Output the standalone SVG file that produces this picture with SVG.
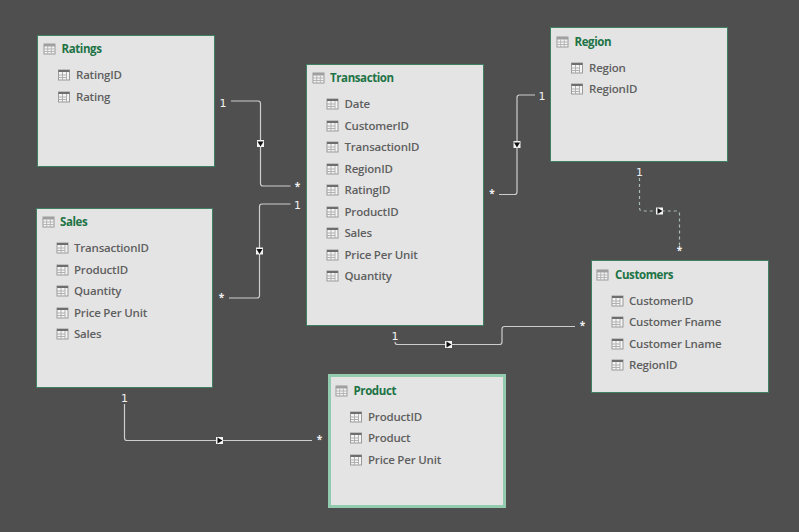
<svg xmlns="http://www.w3.org/2000/svg" width="799" height="532" viewBox="0 0 799 532">
<style>
text{font-family:"Open Sans","Noto Sans","Liberation Sans",sans-serif}
.box{fill:#e4e4e4;stroke:#3f8063;stroke-width:1}
.sel{fill:#e4e4e4;stroke:#92cbaf;stroke-width:3}
.t{font-size:11.500px;font-weight:700;fill:#217346;letter-spacing:-.4px}
.f{font-size:11.500px;font-weight:600;fill:#5f5f5f;letter-spacing:-.2px}
.c{fill:none;stroke:#cdcdcd;stroke-width:1.200}
.d{fill:none;stroke:#a9bdb3;stroke-width:1.200;stroke-dasharray:3 3}
text.n{font-family:"DejaVu Sans",sans-serif;font-size:11px;fill:#f2f2f2;text-anchor:middle}
.s{font-size:10px;font-weight:700;fill:#f2f2f2;text-anchor:middle}
</style>
<defs>
<g id="ti">
<rect x="0" y="0" width="11" height="10" fill="#f4f4f4" stroke="#9a9a9a"/>
<rect x="0" y="0" width="11" height="2.500" fill="#a0a0a0"/>
<path d="M3.700 2.500V10M7.300 2.500V10M0 5H11M0 7.500H11" stroke="#b5b5b5" stroke-width="1" fill="none"/>
</g>
<g id="fi">
<rect x="0" y="0" width="11" height="10" fill="#f4f4f4" stroke="#9a9a9a"/>
<rect x="0" y="0" width="11" height="2" fill="#6e6e6e"/>
<path d="M4 2V10M8 2V10M0 5H8M0 7.500H8" stroke="#b0b0b0" stroke-width="1" fill="none"/>
</g>
<g id="hd"><rect x="-3.500" y="-3.500" width="7" height="7" fill="#f4f4f4"/><path d="M-3 -2H3L0 3Z" fill="#111"/></g>
<g id="hr"><rect x="-3.500" y="-3.500" width="7" height="7" fill="#f4f4f4"/><path d="M-2 -3V3L3 0Z" fill="#111"/></g>
</defs>
<rect width="799" height="532" fill="#4f4f4f"/>
<g id="connectors">
<path class="c" d="M231 101H258Q260.500 101 260.500 103.500V183.500Q260.500 186 263 186H290.500"/>
<use href="#hd" x="260.500" y="143.500"/>
<text class="n" x="223" y="107">1</text><text class="s" x="297.500" y="190">*</text>
<path class="c" d="M229 298H257Q259.500 298 259.500 295.500V206.500Q259.500 204 262 204H290.500"/>
<use href="#hd" x="259.500" y="251"/>
<text class="s" x="221.500" y="301">*</text><text class="n" x="297.500" y="209">1</text>
<path class="c" d="M499 194.500H514.500Q517 194.500 517 192V97.500Q517 95 519.500 95H535"/>
<use href="#hd" x="517" y="144.500"/>
<text class="s" x="492" y="197">*</text><text class="n" x="542" y="100">1</text>
<path class="d" d="M639.500 178V208Q639.500 211 642.500 211H676.500Q679.500 211 679.500 214V246"/>
<use href="#hr" x="659.500" y="211"/>
<text class="n" x="639.500" y="176">1</text><text class="s" x="679.500" y="254">*</text>
<path class="c" d="M395 342Q395 344.500 397.500 344.500H499.500Q502 344.500 502 342V329Q502 326.500 504.500 326.500H575"/>
<use href="#hr" x="448.500" y="344.500"/>
<text class="n" x="395" y="340">1</text><text class="s" x="582.500" y="329">*</text>
<path class="c" d="M124.500 404V438Q124.500 440.500 127 440.500H312"/>
<use href="#hr" x="219.500" y="440.500"/>
<text class="n" x="124.500" y="402">1</text><text class="s" x="319.500" y="443">*</text>
</g>
<g id="ratings">
<rect class="box" x="37.500" y="35.500" width="177" height="131"/>
<use href="#ti" x="44" y="44"/><text class="t" x="61.500" y="53">Ratings</text>
<use href="#fi" x="58.500" y="70"/><text class="f" x="76" y="79">RatingID</text>
<use href="#fi" x="58.500" y="92"/><text class="f" x="76" y="101">Rating</text>
</g>
<g id="transaction">
<rect class="box" x="306.500" y="64.500" width="177" height="261"/>
<use href="#ti" x="313" y="73"/><text class="t" x="330" y="82">Transaction</text>
<use href="#fi" x="327" y="99"/><text class="f" x="344.500" y="108">Date</text>
<use href="#fi" x="327" y="121"/><text class="f" x="344.500" y="130">CustomerID</text>
<use href="#fi" x="327" y="142"/><text class="f" x="344.500" y="151">TransactionID</text>
<use href="#fi" x="327" y="164"/><text class="f" x="344.500" y="173">RegionID</text>
<use href="#fi" x="327" y="185"/><text class="f" x="344.500" y="194">RatingID</text>
<use href="#fi" x="327" y="207"/><text class="f" x="344.500" y="216">ProductID</text>
<use href="#fi" x="327" y="228"/><text class="f" x="344.500" y="237">Sales</text>
<use href="#fi" x="327" y="250"/><text class="f" x="344.500" y="259">Price Per Unit</text>
<use href="#fi" x="327" y="271"/><text class="f" x="344.500" y="280">Quantity</text>
</g>
<g id="region">
<rect class="box" x="550.500" y="27.500" width="177" height="134"/>
<use href="#ti" x="557" y="37"/><text class="t" x="574.500" y="46">Region</text>
<use href="#fi" x="571.500" y="63"/><text class="f" x="589" y="72">Region</text>
<use href="#fi" x="571.500" y="84"/><text class="f" x="589" y="93">RegionID</text>
</g>
<g id="sales">
<rect class="box" x="36.500" y="208.500" width="176" height="179"/>
<use href="#ti" x="43" y="217"/><text class="t" x="60" y="226">Sales</text>
<use href="#fi" x="57" y="243"/><text class="f" x="74" y="252">TransactionID</text>
<use href="#fi" x="57" y="265"/><text class="f" x="74" y="274">ProductID</text>
<use href="#fi" x="57" y="286"/><text class="f" x="74" y="295">Quantity</text>
<use href="#fi" x="57" y="308"/><text class="f" x="74" y="317">Price Per Unit</text>
<use href="#fi" x="57" y="329"/><text class="f" x="74" y="338">Sales</text>
</g>
<g id="customers">
<rect class="box" x="591.500" y="260.500" width="177" height="132"/>
<use href="#ti" x="597" y="270"/><text class="t" x="615" y="279">Customers</text>
<use href="#fi" x="612" y="296"/><text class="f" x="629" y="305">CustomerID</text>
<use href="#fi" x="612" y="317"/><text class="f" x="629" y="326">Customer Fname</text>
<use href="#fi" x="612" y="339"/><text class="f" x="629" y="348">Customer Lname</text>
<use href="#fi" x="612" y="360"/><text class="f" x="629" y="369">RegionID</text>
</g>
<g id="product">
<rect class="sel" x="329.500" y="375.500" width="175" height="131"/>
<use href="#ti" x="336" y="386"/><text class="t" x="353.500" y="395">Product</text>
<use href="#fi" x="350.500" y="412"/><text class="f" x="368" y="421">ProductID</text>
<use href="#fi" x="350.500" y="433"/><text class="f" x="368" y="442">Product</text>
<use href="#fi" x="350.500" y="455"/><text class="f" x="368" y="464">Price Per Unit</text>
</g>
</svg>
